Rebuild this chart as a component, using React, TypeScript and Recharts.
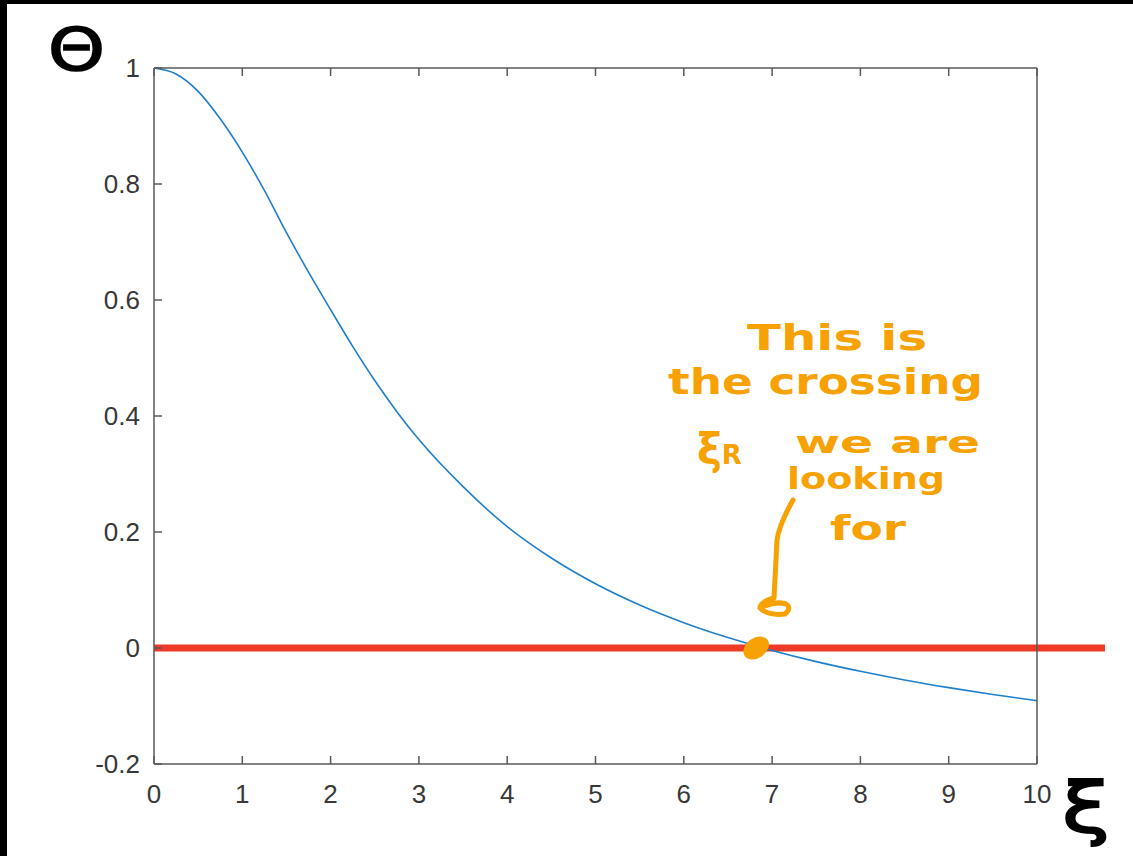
import { LineChart, Line, XAxis, YAxis, ReferenceLine, ReferenceDot } from "recharts";

// dimensionless radius and the solution
const xi = [
  0, 0.25, 0.5, 0.75, 1, 1.25, 1.5, 1.75, 2, 2.25, 2.5, 2.75, 3, 3.5, 4, 4.5, 5, 5.5, 6, 6.5, 7, 7.5, 8,
  8.5, 9, 9.5, 10,
];
const theta = [
  1, 0.9897, 0.9598, 0.9124, 0.855, 0.789, 0.716, 0.648, 0.5833, 0.52, 0.4611, 0.4075, 0.3594, 0.2782,
  0.2093, 0.1551, 0.1108, 0.0742, 0.0437, 0.018, -0.0042, -0.0235, -0.0402, -0.0551, -0.0683, -0.0802,
  -0.0907,
];

const xTicks = [0, 1, 2, 3, 4, 5, 6, 7, 8, 9, 10];
const yTicks = [-0.2, 0, 0.2, 0.4, 0.6, 0.8, 1];

// zero line runs a bit past the axes box
const zeroLine = [0, 10.77];
const crossingXi = 6.82;

const noteLines = ["This is", "the crossing", "we are", "looking", "for"];

const data = xi.map((x, i) => ({ xi: x, theta: theta[i] }));

const axisColor = "#5a5a5a";
const orange = "#f7a102";
const tickLen = 8;
const xGap = 21;
const yGap = 14;
const font = "Liberation Sans, Arial, sans-serif";
const noteFont = "DejaVu Sans, sans-serif";

// matlab style ticks point into the box
const BottomTick = (p: any) => (
  <g>
    <line x1={p.x} x2={p.x} y1={p.y - xGap} y2={p.y - xGap - tickLen} stroke={axisColor} strokeWidth={1.5} />
    <text x={p.x} y={p.y} dy="0.71em" textAnchor="middle" fontSize={26} fill="#383838" fontFamily={font}>
      {p.payload.value}
    </text>
  </g>
);
const LeftTick = (p: any) => (
  <g>
    <line x1={p.x + yGap} x2={p.x + yGap + tickLen} y1={p.y} y2={p.y} stroke={axisColor} strokeWidth={1.5} />
    <text x={p.x} y={p.y} dy="0.36em" textAnchor="end" fontSize={26} fill="#383838" fontFamily={font}>
      {String(p.payload.value)}
    </text>
  </g>
);
const TopTick = (p: any) => (
  <line x1={p.x} x2={p.x} y1={p.y} y2={p.y + tickLen} stroke={axisColor} strokeWidth={1.5} />
);
const RightTick = (p: any) => (
  <line x1={p.x} x2={p.x - tickLen} y1={p.y} y2={p.y} stroke={axisColor} strokeWidth={1.5} />
);

export default function App() {
  return (
    <div style={{ position: "absolute", left: 0, top: 0, width: 1133, height: 856, background: "#fff" }}>
      <LineChart width={1133} height={856} data={data} margin={{ top: 67, right: 95, bottom: 0, left: 0 }}>
        <XAxis
          xAxisId="bottom"
          dataKey="xi"
          type="number"
          domain={[0, 10]}
          ticks={xTicks}
          height={92}
          tickSize={0}
          tickMargin={xGap}
          tickLine={false}
          tick={<BottomTick />}
          stroke={axisColor}
          strokeWidth={1.5}
        />
        <XAxis
          xAxisId="top"
          orientation="top"
          dataKey="xi"
          type="number"
          domain={[0, 10]}
          ticks={xTicks}
          height={1}
          tickSize={0}
          tickMargin={0}
          tickLine={false}
          tick={<TopTick />}
          stroke={axisColor}
          strokeWidth={1.5}
        />
        <YAxis
          yAxisId="left"
          type="number"
          domain={[-0.2, 1]}
          ticks={yTicks}
          width={154}
          tickSize={0}
          tickMargin={yGap}
          tickLine={false}
          tick={<LeftTick />}
          stroke={axisColor}
          strokeWidth={1.5}
        />
        <YAxis
          yAxisId="right"
          orientation="right"
          type="number"
          domain={[-0.2, 1]}
          ticks={yTicks}
          width={1}
          tickSize={0}
          tickMargin={0}
          tickLine={false}
          tick={<RightTick />}
          stroke={axisColor}
          strokeWidth={1.5}
        />
        <ReferenceLine
          xAxisId="bottom"
          yAxisId="left"
          segment={[
            { x: zeroLine[0], y: 0 },
            { x: zeroLine[1], y: 0 },
          ]}
          ifOverflow="visible"
          stroke="#ee3a26"
          strokeWidth={7}
        />
        <Line
          xAxisId="bottom"
          yAxisId="left"
          dataKey="theta"
          type="monotone"
          stroke="#1f7fcc"
          strokeWidth={1.6}
          dot={false}
          isAnimationActive={false}
        />
        <ReferenceDot
          xAxisId="bottom"
          yAxisId="left"
          x={crossingXi}
          y={0}
          ifOverflow="visible"
          shape={(p: any) => (
            <ellipse
              cx={p.cx}
              cy={p.cy}
              rx={14}
              ry={10}
              fill={orange}
              transform={`rotate(-35 ${p.cx} ${p.cy})`}
            />
          )}
        />
      </LineChart>

      {/* handwritten notes on top of the figure */}
      <svg width={1133} height={856} style={{ position: "absolute", left: 0, top: 0, pointerEvents: "none" }}>
        <rect x={0} y={0} width={1133} height={4} fill="#000" />
        <rect x={0} y={0} width={7} height={856} fill="#000" />
        <text
          x={48}
          y={70}
          fontFamily={noteFont}
          fontSize={58}
          stroke="#000"
          strokeWidth={1.5}
          textLength={57}
          lengthAdjust="spacingAndGlyphs"
        >
          Θ
        </text>
        <text
          x={1062}
          y={832}
          fontFamily={noteFont}
          fontSize={70}
          stroke="#000"
          strokeWidth={2}
          textLength={48}
          lengthAdjust="spacingAndGlyphs"
        >
          ξ
        </text>
        <g fill={orange} fontFamily={noteFont} fontWeight={700}>
          <text x={747} y={350} fontSize={36} textLength={180} lengthAdjust="spacingAndGlyphs">
            {noteLines[0]}
          </text>
          <text x={668} y={394} fontSize={36} textLength={315} lengthAdjust="spacingAndGlyphs">
            {noteLines[1]}
          </text>
          <text x={697} y={464} fontSize={42}>
            ξ<tspan fontSize={26}>R</tspan>
          </text>
          <text x={795} y={453} fontSize={30} textLength={185} lengthAdjust="spacingAndGlyphs">
            {noteLines[2]}
          </text>
          <text x={787} y={489} fontSize={30} textLength={158} lengthAdjust="spacingAndGlyphs">
            {noteLines[3]}
          </text>
          <text x={830} y={540} fontSize={34} textLength={76} lengthAdjust="spacingAndGlyphs">
            {noteLines[4]}
          </text>
        </g>
        <path
          d="M793 500 Q779 525 777 540 L774 598 Q760 602 760 608 Q768 616 785 614 Q792 608 786 604 Q776 601 765 606"
          fill="none"
          stroke={orange}
          strokeWidth={5}
          strokeLinecap="round"
          strokeLinejoin="round"
        />
      </svg>
    </div>
  );
}
